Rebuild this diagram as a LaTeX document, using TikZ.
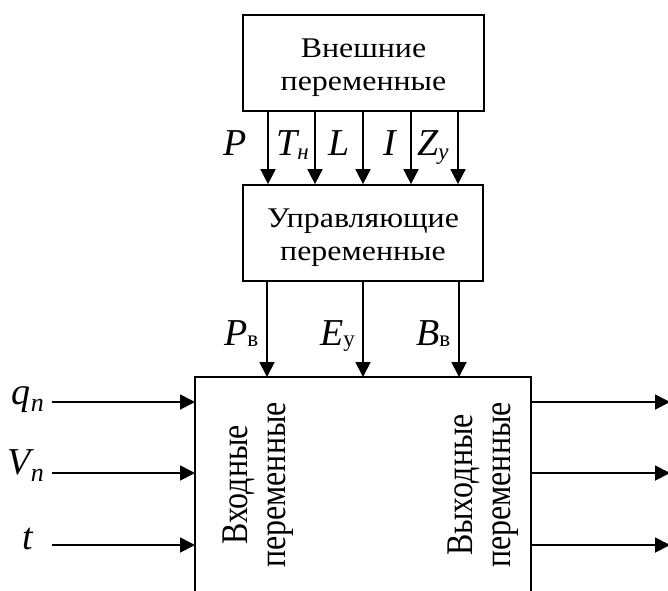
\documentclass[tikz,border=0pt]{standalone}
\usepackage{fontspec}
\setmainfont{Liberation Serif}
\usetikzlibrary{arrows.meta}
\newcommand{\twol}[4]{\scalebox{1.12}[#4]{\fontsize{28.5}{#3}\selectfont\begin{tabular}[t]{@{}c@{}}#1\\#2\end{tabular}}}
\begin{document}
\begin{tikzpicture}[x=1pt,y=-1pt,
  box/.style={draw, line width=1.8pt, inner sep=0pt},
  btext/.style={inner sep=0pt, anchor=base},
  vtext/.style={rotate=90, inner sep=0pt, anchor=base},
  arr/.style={line width=1.8pt, -{Triangle[length=15pt,width=15pt]}},
  lbl/.style={font=\fontsize{38}{40}\selectfont\itshape, inner sep=0pt, anchor=base},
]
\newcommand{\sbi}[1]{\raisebox{-0.12em}{\fontsize{23}{23}\selectfont\itshape #1}}
\newcommand{\sbu}[1]{\raisebox{-0.05em}{\fontsize{23}{23}\selectfont\upshape #1}}
\newcommand{\sbn}[1]{\raisebox{-0.2em}{\fontsize{26}{26}\selectfont\itshape #1}}
\useasboundingbox (0,0) rectangle (668,590);
% boxes
\node[box, minimum width=241pt, minimum height=96pt] (ext) at (363.5,63) {};
\node[btext] (extt) at (363.5,57.5) {\twol{Внешние}{переменные}{32.5pt}{1.0}};
\node[box, minimum width=240pt, minimum height=96pt] (ctl) at (363,233) {};
\node[btext] (ctlt) at (363,227.5) {\twol{Управляющие}{переменные}{32.5pt}{1.0}};
\coordinate (mtl) at (195,377);
\coordinate (mtr) at (531,377);
\coordinate (mbl) at (195,600);
\coordinate (mbr) at (531,600);
\draw[line width=1.8pt] (mbl) -- (mtl) -- (mtr) -- (mbr);
\node[vtext] (int) at (247,485) {\twol{Входные}{переменные}{28.8pt}{1.32}};
\node[vtext] (outt) at (472,485) {\twol{Выходные}{переменные}{28.8pt}{1.32}};
% arrows between top boxes
\foreach \x in {268,315,363,411,458}
  \draw[arr] (ext.south -| \x,0) -- (ctl.north -| \x,0);
% labels of top arrows
\node[lbl] (lP) at (235,155) {P};
\node[lbl, anchor=base west] (lT) at (276,155) {T\sbi{н}};
\node[lbl] (lL) at (339,155) {L};
\node[lbl] (lI) at (390,155) {I};
\node[lbl, anchor=base west] (lZ) at (417,155) {Z\sbi{у}};
% arrows to main box
\foreach \x in {267,363,459}
  \draw[arr] (ctl.south -| \x,0) -- (mtl -| \x,0);
\node[lbl, anchor=base west] (lPv) at (224,345) {P\sbu{в}};
\node[lbl, anchor=base west] (lEy) at (320,345) {E\sbu{у}};
\node[lbl, anchor=base west] (lBv) at (416,345) {B\sbu{в}};
% inputs and outputs
\foreach \y/\n in {402/a,473/b,545/c}{
  \coordinate (in\n) at (52,\y);
  \coordinate (out\n) at (670,\y);
  \draw[arr] (in\n) -- (mtl |- in\n);
  \draw[arr] (mtr |- out\n) -- (out\n);
}
\node[lbl, anchor=base east] (lq) at (44,404) {q\sbn{n}};
\node[lbl, anchor=base east] (lV) at (44,474) {V\sbn{n}};
\node[lbl, anchor=base east] (lt) at (33,549) {t};
\end{tikzpicture}
\end{document}
